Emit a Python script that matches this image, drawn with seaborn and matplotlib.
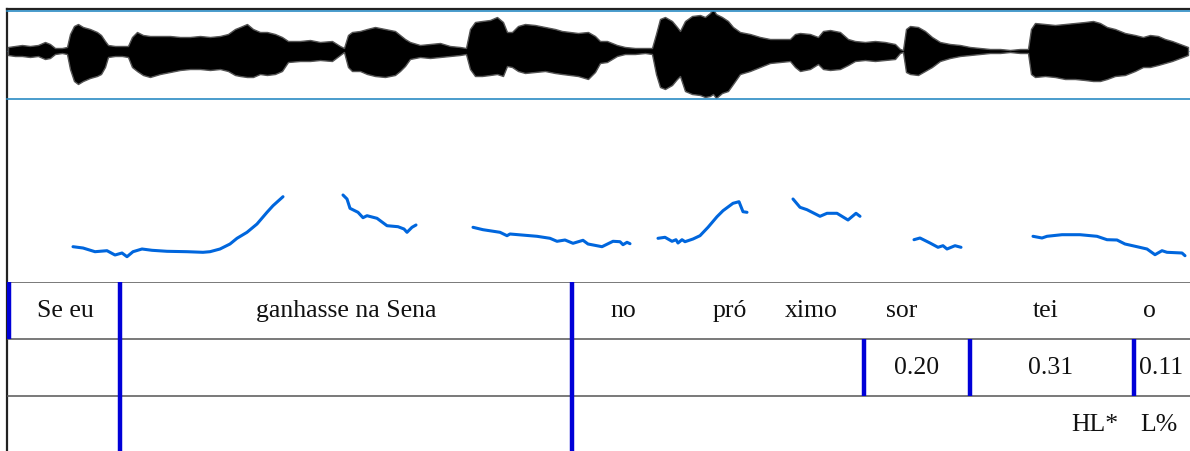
import numpy as np
import pandas as pd
import matplotlib
matplotlib.use("Agg")
import matplotlib.pyplot as plt
import seaborn as sns

# ---------------- data ----------------
# waveform amplitude envelope (time in ms, amplitude in % of full scale)
wave_t = [16, 30, 44, 60, 76, 90, 100, 110, 124, 134, 140, 148, 156, 166, 180, 194, 202, 210, 216, 230,
          244, 256, 264, 274, 286, 300, 320, 340, 360, 380, 400, 420, 440, 456, 470, 480, 494, 506, 520, 534,
          550, 564, 576, 600, 620, 640, 664, 680, 688, 696, 704, 720, 734, 750, 770, 790, 800, 810, 820, 840,
          860, 880, 900, 920, 932, 940, 950, 964, 980, 994, 1006, 1014, 1024, 1036, 1050, 1070, 1090, 1110, 1124, 1140,
          1156, 1176, 1190, 1200, 1214, 1234, 1250, 1270, 1290, 1304, 1312, 1320, 1330, 1344, 1354, 1360, 1370, 1384, 1400, 1410,
          1420, 1426, 1432, 1444, 1456, 1466, 1480, 1500, 1520, 1540, 1560, 1580, 1590, 1600, 1620, 1636, 1646, 1660, 1680, 1696,
          1710, 1730, 1750, 1770, 1790, 1800, 1806, 1812, 1820, 1836, 1850, 1864, 1880, 1900, 1920, 1940, 1960, 1980, 2000, 2020,
          2040, 2056, 2062, 2070, 2090, 2110, 2130, 2150, 2170, 2186, 2200, 2214, 2230, 2250, 2270, 2286, 2300, 2316, 2330, 2344,
          2360, 2376]
wave_upper = [8, 10, 12, 10, 12, 18, 14, 6, 6, 8, 34, 50, 54, 48, 44, 38, 32, 20, 12, 10,
              10, 10, 28, 38, 32, 30, 30, 30, 28, 28, 30, 28, 30, 34, 44, 48, 54, 44, 38, 38,
              34, 28, 20, 20, 22, 18, 20, 10, 6, 32, 38, 40, 44, 48, 44, 40, 32, 24, 18, 12,
              14, 16, 10, 8, 6, 44, 58, 60, 62, 68, 58, 38, 38, 50, 54, 52, 48, 44, 40, 38,
              36, 38, 30, 20, 20, 12, 8, 6, 6, 6, 34, 64, 68, 60, 48, 40, 60, 70, 72, 68,
              76, 84, 74, 68, 60, 48, 38, 34, 28, 24, 24, 24, 34, 36, 34, 28, 40, 42, 38, 24,
              20, 18, 20, 18, 14, 4, 2, 44, 50, 48, 40, 28, 18, 14, 12, 8, 6, 4, 4, 2,
              4, 4, 44, 56, 54, 52, 54, 56, 58, 60, 56, 48, 44, 36, 32, 28, 32, 30, 24, 20,
              14, 8]
wave_lower = [-8, -10, -10, -12, -10, -16, -14, -6, -4, -6, -36, -60, -66, -60, -54, -50, -46, -32, -12, -10,
              -10, -12, -32, -40, -48, -52, -46, -42, -38, -36, -36, -38, -36, -40, -48, -50, -52, -52, -46, -48,
              -46, -40, -22, -20, -20, -18, -20, -8, -2, -32, -40, -40, -46, -50, -52, -48, -40, -30, -16, -12,
              -14, -12, -10, -8, -6, -36, -50, -50, -48, -46, -50, -30, -32, -40, -44, -42, -40, -44, -46, -48,
              -50, -56, -42, -24, -22, -10, -6, -6, -4, -6, -46, -72, -76, -68, -56, -50, -80, -86, -88, -92,
              -90, -86, -94, -84, -80, -66, -46, -40, -32, -24, -22, -20, -32, -40, -36, -26, -36, -38, -36, -28,
              -20, -18, -20, -18, -16, -4, -2, -42, -46, -48, -40, -32, -20, -14, -10, -8, -6, -4, -4, -2,
              -4, -4, -46, -52, -50, -52, -56, -56, -58, -60, -60, -56, -50, -48, -40, -32, -32, -28, -24, -20,
              -14, -8]

# pitch contour segments (time in ms, F0 in Hz)
f0_seg1_t = [146, 166, 190, 214, 230, 244, 254, 266, 284, 304, 334, 374, 406, 420, 440, 460, 474, 494, 514, 534, 546, 566]
f0_seg1_hz = [120.6, 118, 110.6, 112.6, 104, 108, 100.6, 110.6, 116, 113.4, 111.4, 110.6, 109.4, 110.6, 116, 126, 137.4, 149.4, 166, 189.4, 202.6, 220.6]
f0_seg2_t = [686, 694, 700, 716, 726, 734, 754, 774, 796, 808, 814, 824, 832]
f0_seg2_hz = [224, 216, 197.4, 189.4, 178.6, 182.6, 177.4, 162.6, 160.6, 156, 149.4, 159.4, 164]
f0_seg3_t = [946, 966, 1000, 1014, 1020, 1074, 1100, 1114, 1130, 1146, 1166, 1176, 1204, 1226, 1240, 1246, 1254, 1260]
f0_seg3_hz = [159.4, 154.6, 149.4, 142.6, 146, 141.4, 137.4, 131.4, 134, 127.4, 133.4, 126, 120.6, 131.4, 130.6, 124.6, 129.4, 126.6]
f0_seg4_t = [1316, 1330, 1344, 1352, 1356, 1364, 1370, 1386, 1400, 1416, 1434, 1446, 1466, 1478, 1486, 1494]
f0_seg4_hz = [137.4, 139.4, 131.4, 134.6, 128, 134.6, 130.6, 136, 142.6, 159.4, 180.6, 192.6, 207.4, 210.6, 190.6, 189.4]
f0_seg5_t = [1586, 1600, 1614, 1640, 1654, 1674, 1696, 1712, 1720]
f0_seg5_hz = [216, 199.4, 194.6, 181.4, 187.4, 187.4, 174, 187.4, 181.4]
f0_seg6_t = [1828, 1840, 1860, 1876, 1886, 1894, 1910, 1922]
f0_seg6_hz = [134.6, 138, 128, 119.4, 122.6, 116, 122.6, 119.4]
f0_seg7_t = [2066, 2084, 2094, 2124, 2160, 2194, 2214, 2234, 2250, 2274, 2294, 2310, 2324, 2334, 2364, 2370]
f0_seg7_hz = [141.4, 138, 141.4, 144.6, 144.6, 141.4, 134.6, 134, 126, 120.6, 116, 104.6, 112.6, 109.4, 108, 102.6]

# annotation tiers
tier1_labels = ["Se eu", "ganhasse na Sena", "no", "pró", "ximo", "sor", "tei", "o"]
tier1_times = [130, 692, 1246, 1460, 1622, 1804, 2092, 2298]
tier2_labels = ["0.20", "0.31", "0.11"]
tier2_times = [1834, 2102, 2322]
tier3_labels = ["HL*", "L%"]
tier3_times = [2190, 2318]
# boundaries: (time ms, first tier, last tier)
boundary_times = [18, 240, 1144, 1728, 1940, 2268]
boundary_top = [0, 0, 0, 1, 1, 1]
boundary_bottom = [1, 2.965, 2.965, 2, 2, 2]

# ---------------- style ----------------
sns.set_style("white")
plt.rcParams["font.family"] = ["Liberation Serif", "DejaVu Serif"]

W, H = 1190, 452
fig = plt.figure(figsize=(W / 100, H / 100), dpi=100)
XLIM = (14, 2380)
left = 7 / W
width = 1 - left

frame_col = "#222222"
blue_line = "#2a8bc4"
f0_col = "#0066dd"
bound_col = "#0000d8"
tier_line = "#555555"

# frame (left and top edges)
ax_frame = fig.add_axes([left, 0, width, (H - 10) / H])
ax_frame.set_xlim(XLIM)
ax_frame.set_xticks([]); ax_frame.set_yticks([])
for s in ["right", "bottom"]:
    ax_frame.spines[s].set_visible(False)
for s in ["left", "top"]:
    ax_frame.spines[s].set_color(frame_col)
    ax_frame.spines[s].set_linewidth(1.6)
ax_frame.patch.set_alpha(0)

# waveform
ax_w = fig.add_axes([left, (H - 100) / H, width, 88.5 / H])
ax_w.fill_between(wave_t, wave_lower, wave_upper, facecolor="black", linewidth=1.0, edgecolor="#555555")
ax_w.axhline(0, color="#3a7fb0", linewidth=0.6, alpha=0.6, zorder=0.5)
ax_w.set_xlim(XLIM)
ax_w.set_ylim(-96, 81)
ax_w.set_xticks([]); ax_w.set_yticks([])
for s in ["left", "right"]:
    ax_w.spines[s].set_visible(False)
for s in ["top", "bottom"]:
    ax_w.spines[s].set_color(blue_line)
    ax_w.spines[s].set_linewidth(1.2)
ax_w.patch.set_alpha(0)

# pitch
segs = [(f0_seg1_t, f0_seg1_hz), (f0_seg2_t, f0_seg2_hz), (f0_seg3_t, f0_seg3_hz), (f0_seg4_t, f0_seg4_hz),
        (f0_seg5_t, f0_seg5_hz), (f0_seg6_t, f0_seg6_hz), (f0_seg7_t, f0_seg7_hz)]
rows = []
for i, (ts, hz) in enumerate(segs):
    for t, h in zip(ts, hz):
        rows.append({"time": t, "f0": h, "seg": i})
df = pd.DataFrame(rows)
ax_p = fig.add_axes([left, (H - 283) / H, width, 183 / H])
sns.lineplot(data=df, x="time", y="f0", units="seg", estimator=None, sort=False,
             color=f0_col, linewidth=2.2, ax=ax_p)
ax_p.set_xlim(XLIM)
ax_p.set_ylim(50, 416)
ax_p.set_axis_off()

# tiers
ax_t = fig.add_axes([left, 0, width, 169 / H])
ax_t.set_xlim(XLIM)
ax_t.set_ylim(2.965, 0)
ax_t.set_axis_off()
for yv in [0, 1, 2]:
    ax_t.axhline(yv, color=tier_line, linewidth=1.1, zorder=1)
ax_t.vlines(boundary_times, boundary_top, boundary_bottom, color=bound_col, linewidth=3.2, zorder=3)
fs = 18.5
for lab, t in zip(tier1_labels, tier1_times):
    ax_t.text(t, 0.5, lab, ha="center", va="center", fontsize=fs, color="#111111")
for lab, t in zip(tier2_labels, tier2_times):
    ax_t.text(t, 1.5, lab, ha="center", va="center", fontsize=fs, color="#111111")
for lab, t in zip(tier3_labels, tier3_times):
    ax_t.text(t, 2.5, lab, ha="center", va="center", fontsize=fs, color="#111111")

fig.savefig("out.png", dpi=100)
